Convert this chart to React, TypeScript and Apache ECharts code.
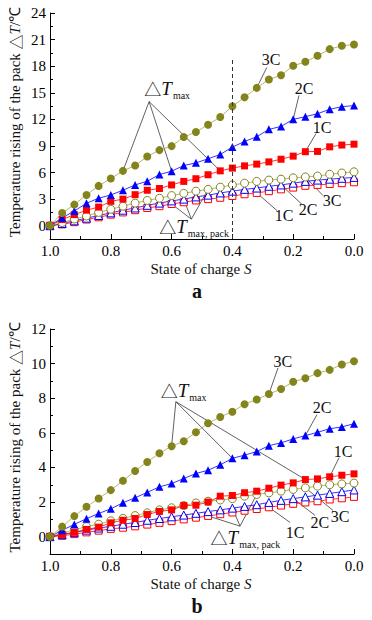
import React, { useEffect, useRef } from "react";
import * as echarts from "echarts";

// State of charge (x values, shared by all series)
const SOC = [1.0, 0.96, 0.92, 0.88, 0.84, 0.8, 0.76, 0.72, 0.68, 0.64, 0.6, 0.56, 0.52, 0.48, 0.44, 0.4, 0.36, 0.32, 0.28, 0.24, 0.2, 0.16, 0.12, 0.08, 0.04, 0.0];

// Panel a: ΔT_max (filled) and ΔT_max,pack (hollow)
const aMax3C = [0, 1.43, 2.38, 3.47, 4.49, 5.32, 6.19, 6.79, 7.81, 8.53, 8.98, 10.0, 10.57, 11.4, 12.26, 13.47, 14.49, 15.55, 16.5, 16.98, 18.04, 18.49, 19.17, 19.92, 20.3, 20.45];
const aMax2C = [0, 0.9, 1.66, 2.53, 3.1, 3.47, 4.0, 4.6, 5.02, 5.77, 6.15, 6.79, 7.09, 7.55, 8.04, 8.87, 9.5, 10.04, 10.87, 11.2, 12.0, 12.3, 12.64, 13.13, 13.43, 13.55];
const aMax1C = [0, 0.7, 1.25, 1.75, 2.1, 2.75, 3.0, 3.5, 4.0, 4.2, 4.6, 5.0, 5.3, 5.75, 6.19, 6.5, 6.75, 6.95, 7.2, 7.5, 7.85, 8.35, 8.38, 8.9, 9.1, 9.2];
const aPack3C = [0, 0.35, 0.75, 1.1, 1.5, 1.85, 2.2, 2.55, 2.85, 3.1, 3.4, 3.65, 3.9, 4.1, 4.35, 4.6, 4.8, 5.0, 5.15, 5.25, 5.4, 5.5, 5.6, 5.8, 5.95, 6.08];
const aPack2C = [0, 0.25, 0.55, 0.85, 1.15, 1.45, 1.75, 2.0, 2.3, 2.55, 2.8, 3.0, 3.25, 3.45, 3.7, 3.9, 4.1, 4.25, 4.45, 4.6, 4.8, 5.0, 5.15, 5.25, 5.35, 5.45];
const aPack1C = [0, 0.15, 0.4, 0.7, 0.95, 1.25, 1.5, 1.75, 2.0, 2.2, 2.45, 2.65, 2.85, 3.0, 3.15, 3.35, 3.55, 3.7, 3.9, 4.1, 4.3, 4.5, 4.6, 4.7, 4.8, 4.9];

// Panel b
const bMax3C = [0, 0.58, 1.19, 1.73, 2.21, 2.69, 3.23, 3.8, 4.32, 4.82, 5.23, 5.51, 6.03, 6.55, 6.92, 7.22, 7.65, 7.93, 8.24, 8.53, 8.95, 9.15, 9.45, 9.64, 9.95, 10.14];
const bMax2C = [0, 0.37, 0.71, 1.04, 1.34, 1.61, 1.96, 2.25, 2.56, 2.88, 3.07, 3.36, 3.65, 3.84, 4.15, 4.53, 4.71, 4.92, 5.26, 5.42, 5.65, 5.84, 6.03, 6.24, 6.34, 6.53];
const bMax1C = [0, 0.13, 0.25, 0.42, 0.55, 0.8, 0.95, 1.05, 1.28, 1.46, 1.55, 1.8, 1.82, 2.0, 2.34, 2.38, 2.54, 2.63, 2.8, 2.98, 3.11, 3.3, 3.34, 3.46, 3.55, 3.63];
const bPack3C = [0, 0.2, 0.4, 0.58, 0.72, 0.92, 1.06, 1.22, 1.38, 1.55, 1.67, 1.8, 1.95, 2.05, 2.12, 2.2, 2.34, 2.44, 2.53, 2.63, 2.73, 2.82, 2.92, 3.0, 3.05, 3.1];
const bPack2C = [0, 0.12, 0.25, 0.38, 0.5, 0.6, 0.72, 0.82, 0.95, 1.05, 1.15, 1.25, 1.35, 1.45, 1.55, 1.65, 1.75, 1.85, 1.98, 2.1, 2.2, 2.3, 2.4, 2.5, 2.6, 2.7];
const bPack1C = [0, 0.05, 0.15, 0.25, 0.35, 0.45, 0.52, 0.6, 0.7, 0.8, 0.9, 1.0, 1.1, 1.2, 1.3, 1.4, 1.5, 1.6, 1.7, 1.8, 1.9, 1.98, 2.05, 2.15, 2.22, 2.3];

// Tick values
const X_MAJOR = [0, 0.2, 0.4, 0.6, 0.8, 1.0];
const X_MINOR = [0.1, 0.3, 0.5, 0.7, 0.9];
const YA_MAJOR = [0, 3, 6, 9, 12, 15, 18, 21, 24];
const YA_MINOR = [1.5, 4.5, 7.5, 10.5, 13.5, 16.5, 19.5, 22.5];
const YB_MAJOR = [0, 2, 4, 6, 8, 10, 12];
const YB_MINOR = [1, 3, 5, 7, 9, 11];

const DASH_SOC = 0.4;

const SERIF = "'Liberation Serif', 'Times New Roman', serif";
const CJK = "'Noto Sans CJK SC', 'DejaVu Sans', sans-serif";
const OLIVE = "#84841c";
const OLIVE_LINE = "#a3a34a";
const BLUE = "#0000ff";
const RED = "#ff0000";

const SERIES_DATA: Record<string, number[]> = {
  aMax3C, aMax2C, aMax1C, aPack3C, aPack2C, aPack1C,
  bMax3C, bMax2C, bMax1C, bPack3C, bPack2C, bPack1C,
};

// Annotation placements in data coordinates [S, ΔT]
const SIMPLE_LABELS = [
  { g: 0, text: "3C", pos: [0.273, 18.7], from: [0.287, 17.85], to: ["aMax3C", 17] },
  { g: 0, text: "2C", pos: [0.164, 15.5], from: [0.181, 14.7], to: ["aMax2C", 20] },
  { g: 0, text: "1C", pos: [0.105, 11.1], from: [0.125, 10.4], to: ["aMax1C", 21] },
  { g: 0, text: "1C", pos: [0.23, 1.13], from: [0.253, 1.7], to: ["aPack1C", 17] },
  { g: 0, text: "2C", pos: [0.151, 1.8], from: [0.171, 2.4], to: ["aPack2C", 19] },
  { g: 0, text: "3C", pos: [0.072, 2.83], from: [0.102, 3.4], to: ["aPack3C", 21] },
  { g: 1, text: "3C", pos: [0.234, 10.15], from: [0.25, 9.75], to: ["bMax3C", 18] },
  { g: 1, text: "2C", pos: [0.105, 7.45], from: [0.122, 7.05], to: ["bMax2C", 21] },
  { g: 1, text: "1C", pos: [0.036, 4.92], from: [0.049, 4.57], to: ["bMax1C", 23] },
  { g: 1, text: "1C", pos: [0.194, 0.25], from: [0.21, 0.82], to: ["bPack1C", 18] },
  { g: 1, text: "2C", pos: [0.112, 0.82], from: [0.128, 1.23], to: ["bPack2C", 20] },
  { g: 1, text: "3C", pos: [0.046, 1.19], from: [0.069, 1.52], to: ["bPack3C", 21] },
];

const GROUP_LABELS = [
  { g: 0, sub: "max", anchor: [0.599, 15.5], apex: [0.674, 14.0], to: [["aMax3C", 6], ["aMax2C", 10], ["aMax1C", 14]] },
  { g: 0, sub: "max, pack", anchor: [0.55, -0.11], apex: [0.535, 0.74], to: [["aPack1C", 10], ["aPack2C", 11], ["aPack3C", 13]] },
  { g: 1, sub: "max", anchor: [0.545, 8.45], apex: [0.586, 7.8], to: [["bMax3C", 10], ["bMax2C", 15], ["bMax1C", 21]] },
  { g: 1, sub: "max, pack", anchor: [0.381, -0.04], apex: [0.375, 0.61], to: [["bPack1C", 13], ["bPack2C", 15], ["bPack3C", 17]] },
];

const GRIDS = [
  { left: 50, top: 13, width: 304, height: 226, yMin: -1.5, yMax: 24, yMajor: YA_MAJOR, yMinor: YA_MINOR, panel: "a" },
  { left: 50, top: 329, width: 304, height: 225, yMin: -1, yMax: 12, yMajor: YB_MAJOR, yMinor: YB_MINOR, panel: "b" },
];

function buildSeries(key: string, g: number, symbol: string, color: string, hollow: boolean, size: number) {
  const vals = SERIES_DATA[key];
  const s: any = {
    name: key,
    type: "line",
    xAxisIndex: g * 2,
    yAxisIndex: g * 2,
    data: SOC.map((x, i) => [x, vals[i]]),
    symbol,
    symbolSize: size,
    showSymbol: true,
    lineStyle: { color: color === OLIVE ? OLIVE_LINE : color, width: 0.8 },
    itemStyle: hollow ? { color: "#ffffff", borderColor: color, borderWidth: 1 } : { color },
    emphasis: { disabled: true },
    z: hollow ? 3 : 4,
  };
  return s;
}

export default function App() {
  const ref = useRef<HTMLDivElement>(null);
  useEffect(() => {
    if (!ref.current) return;
    const chart = echarts.init(ref.current, undefined, { renderer: "svg" });

    const xAxis: any[] = [];
    const yAxis: any[] = [];
    GRIDS.forEach((gd, g) => {
      xAxis.push({
        gridIndex: g, type: "value", min: 0, max: 1, inverse: true, position: "bottom",
        axisLine: { show: true, onZero: false, lineStyle: { color: "#000", width: 1 } },
        axisTick: { show: true, inside: true, length: 5, customValues: X_MAJOR, lineStyle: { color: "#000" } },
        axisLabel: { customValues: X_MAJOR, formatter: (v: number) => v.toFixed(1), fontSize: 15, fontFamily: SERIF, color: "#000", margin: 4 },
        splitLine: { show: false },
      });
      xAxis.push({
        gridIndex: g, type: "value", min: 0, max: 1, inverse: true, position: "bottom",
        axisLine: { show: false, onZero: false },
        axisTick: { show: true, inside: true, length: 3, customValues: X_MINOR, lineStyle: { color: "#000" } },
        axisLabel: { show: false },
        splitLine: { show: false },
      });
      yAxis.push({
        gridIndex: g, type: "value", min: gd.yMin, max: gd.yMax, position: "left",
        axisLine: { show: true, onZero: false, lineStyle: { color: "#000", width: 1 } },
        axisTick: { show: true, inside: true, length: 5, customValues: gd.yMajor, lineStyle: { color: "#000" } },
        axisLabel: { customValues: gd.yMajor, fontSize: 15, fontFamily: SERIF, color: "#000", margin: 4 },
        splitLine: { show: false },
      });
      yAxis.push({
        gridIndex: g, type: "value", min: gd.yMin, max: gd.yMax, position: "left",
        axisLine: { show: false, onZero: false },
        axisTick: { show: true, inside: true, length: 3, customValues: gd.yMinor, lineStyle: { color: "#000" } },
        axisLabel: { show: false },
        splitLine: { show: false },
      });
    });

    const series: any[] = [];
    ["a", "b"].forEach((p, g) => {
      series.push(buildSeries(p + "Pack1C", g, "rect", RED, true, 7));
      series.push(buildSeries(p + "Pack2C", g, "triangle", BLUE, true, 8));
      series.push(buildSeries(p + "Pack3C", g, "circle", OLIVE, true, 8));
      series.push(buildSeries(p + "Max1C", g, "rect", RED, false, 7));
      series.push(buildSeries(p + "Max2C", g, "triangle", BLUE, false, 8));
      series.push(buildSeries(p + "Max3C", g, "circle", OLIVE, false, 8));
    });
    // dashed reference line at S = 0.4 in panel a
    series.push({
      type: "line", xAxisIndex: 0, yAxisIndex: 0, data: [], silent: true,
      markLine: {
        silent: true, symbol: ["none", "none"], label: { show: false },
        lineStyle: { type: [4, 3], color: "#333", width: 1 },
        data: [[{ coord: [DASH_SOC, GRIDS[0].yMin] }, { coord: [DASH_SOC, 19] }]],
      },
    });

    chart.setOption({
      animation: false,
      backgroundColor: "#ffffff",
      grid: GRIDS.map((gd) => ({ left: gd.left, top: gd.top, width: gd.width, height: gd.height, containLabel: false })),
      xAxis, yAxis, series,
    });

    const px = (g: number, p: number[]) => chart.convertToPixel({ xAxisIndex: g * 2, yAxisIndex: g * 2 }, p) as number[];
    const ptOf = (key: string, i: number) => [SOC[i], SERIES_DATA[key][i]];
    const gfx: any[] = [];
    const lineEl = (a: number[], b: number[]) => ({
      type: "line", z: 1, silent: true,
      shape: { x1: a[0], y1: a[1], x2: b[0], y2: b[1] },
      style: { stroke: "#3a3a3a", lineWidth: 0.8 },
    });

    SIMPLE_LABELS.forEach((l) => {
      const t = px(l.g, l.pos);
      const f = px(l.g, l.from);
      const e = px(l.g, ptOf(l.to[0] as string, l.to[1] as number));
      gfx.push(lineEl(f, e));
      gfx.push({
        type: "text", x: t[0], y: t[1], z: 5, silent: true,
        style: { text: l.text, fontSize: 16, fontFamily: SERIF, fill: "#111", align: "center", verticalAlign: "middle" },
      });
    });

    GROUP_LABELS.forEach((l) => {
      const a = px(l.g, l.anchor);
      const ap = px(l.g, l.apex);
      l.to.forEach((t) => {
        gfx.push(lineEl(ap, px(l.g, ptOf(t[0] as string, t[1] as number))));
      });
      gfx.push({
        type: "text", x: a[0], y: a[1], z: 5, silent: true,
        style: {
          text: "{d|△}{t|T}", align: "right", verticalAlign: "middle", fill: "#111",
          rich: {
            d: { fontSize: 17, fontFamily: CJK, fill: "#111" },
            t: { fontSize: 19, fontFamily: SERIF, fontStyle: "italic", fill: "#111" },
          },
        },
      });
      gfx.push({
        type: "text", x: a[0] + 1, y: a[1] + 7, z: 5, silent: true,
        style: { text: l.sub, fontSize: 10, fontFamily: SERIF, fill: "#111", align: "left", verticalAlign: "middle" },
      });
    });

    GRIDS.forEach((gd) => {
      const cx = gd.left + gd.width / 2;
      const bottom = gd.top + gd.height;
      gfx.push({
        type: "text", x: 15, y: gd.top + gd.height / 2 - 4, rotation: Math.PI / 2, silent: true,
        style: {
          text: "{n|Temperature rising of the pack }{d|△}{i|T}{n|/℃}", align: "center", verticalAlign: "middle",
          rich: {
            n: { fontSize: 15, fontFamily: SERIF, fill: "#111" },
            d: { fontSize: 15, fontFamily: CJK, fill: "#111" },
            i: { fontSize: 15, fontFamily: SERIF, fontStyle: "italic", fill: "#111" },
          },
        },
      });
      gfx.push({
        type: "text", x: cx - 1, y: bottom + 30, silent: true,
        style: {
          text: "{n|State of charge }{i|S}", align: "center", verticalAlign: "middle",
          rich: {
            n: { fontSize: 15, fontFamily: SERIF, fill: "#111" },
            i: { fontSize: 15, fontFamily: SERIF, fontStyle: "italic", fill: "#111" },
          },
        },
      });
      gfx.push({
        type: "text", x: cx - 5, y: bottom + 52, silent: true,
        style: { text: gd.panel, fontSize: 20, fontWeight: "bold", fontFamily: SERIF, fill: "#111", align: "center", verticalAlign: "middle" },
      });
    });

    chart.setOption({ graphic: gfx });

    return () => chart.dispose();
  }, []);
  return <div ref={ref} style={{ position: "absolute", left: 0, top: 0, width: 372, height: 620, background: "#fff" }} />;
}
